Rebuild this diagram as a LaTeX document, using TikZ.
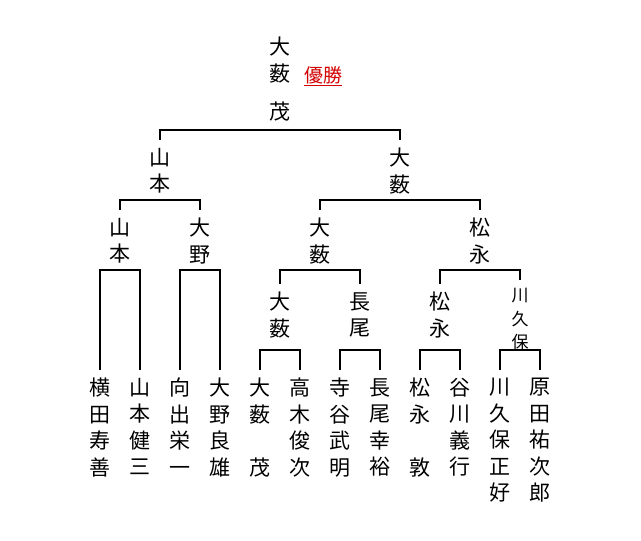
\documentclass[tikz,border=0pt]{standalone}
\usepackage{fontspec}
\usepackage{xcolor}
\newfontfamily\jp{Noto Sans CJK JP}
\definecolor{winred}{RGB}{210,0,0}

\begin{document}
\begin{tikzpicture}[x=1pt, y=-1pt, line width=2.4pt,
	every node/.style={anchor=north, align=center, inner xsep=0pt, inner ysep=7pt, font=\jp\fontsize{21}{26.5}\selectfont},
	smallname/.style={font=\jp\fontsize{17}{23.5}\selectfont}]
	\useasboundingbox (0,0) rectangle (641,541);
	\node(champ) at (280,29){大\\薮\\[12pt]茂};
	\node[anchor=center, text=winred, font=\jp\fontsize{19}{20}\selectfont](yusho) at (323,76){\underline{優勝}};
	\node(yokota) at (100,370){横\\田\\寿\\善};
	\node(yamamoto) at (140,370){山\\本\\健\\三};
	\node(mukaide) at (180,370){向\\出\\栄\\一};
	\node(oono) at (220,370){大\\野\\良\\雄};
	\node(oyabu) at (260,370){大\\薮\\~\\茂};
	\node(takagi) at (300,370){高\\木\\俊\\次};
	\node(teraya) at (340,370){寺\\谷\\武\\明};
	\node(nagao) at (380,370){長\\尾\\幸\\裕};
	\node(matsunaga) at (420,370){松\\永\\~\\敦};
	\node(tanigawa) at (460,370){谷\\川\\義\\行};
	\node(kawakubo) at (500,370){川\\久\\保\\正\\好};
	\node(harada) at (540,370){原\\田\\祐\\次\\郎};
	\node(yamamotoA) at (120,210){山\\本};
	\node(oonoA) at (200,210){大\\野};
	\node(oyabuA) at (280,284){大\\薮};
	\node(nagaoA) at (360,284){長\\尾};
	\node(matsunagaA) at (440,284){松\\永};
	\node[smallname](kawakuboA) at (520,280){川\\久\\保};
	\node(yamamotoB) at (160,140){山\\本};
	\node(oyabuB) at (320,210){大\\薮};
	\node(matsunagaB) at (480,210){松\\永};
	\node(oyabuC) at (400,140){大\\薮};
	\coordinate(m1) at (120,270);
	\coordinate(m2) at (200,270);
	\coordinate(m3) at (280,350);
	\coordinate(m4) at (360,350);
	\coordinate(m5) at (440,350);
	\coordinate(m6) at (520,350);
	\coordinate(m7) at (160,200);
	\coordinate(m8) at (320,270);
	\coordinate(m9) at (480,270);
	\coordinate(m10) at (400,200);
	\coordinate(m11) at (280,130);
	\draw (yokota.north) |- (m1) -| (yamamoto.north);
	\draw (mukaide.north) |- (m2) -| (oono.north);
	\draw (oyabu.north) |- (m3) -| (takagi.north);
	\draw (teraya.north) |- (m4) -| (nagao.north);
	\draw (matsunaga.north) |- (m5) -| (tanigawa.north);
	\draw (kawakubo.north) |- (m6) -| (harada.north);
	\draw (yamamotoA.north) |- (m7) -| (oonoA.north);
	\draw (oyabuA.north) |- (m8) -| (nagaoA.north);
	\draw (matsunagaA.north) |- (m9) -| (kawakuboA.north);
	\draw (oyabuB.north) |- (m10) -| (matsunagaB.north);
	\draw (yamamotoB.north) |- (m11) -| (oyabuC.north);
\end{tikzpicture}
\end{document}
